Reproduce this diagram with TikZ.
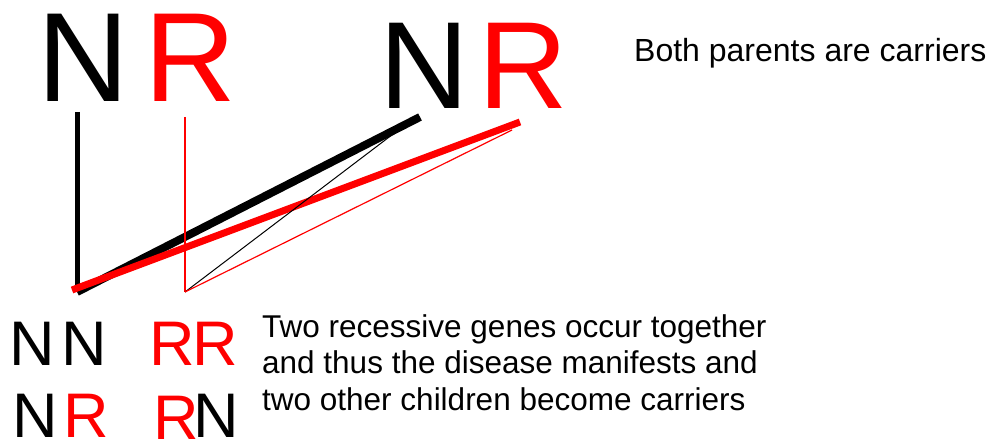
\documentclass[tikz,border=0pt]{standalone}
\usepackage{fontspec}
\setmainfont{Liberation Sans}
\usetikzlibrary{positioning}
\definecolor{rojo}{RGB}{255,0,0}

\begin{document}
\begin{tikzpicture}[x=1pt,y=-1pt]
  \tikzset{gene/.style={inner sep=0pt, anchor=base west}}
  \useasboundingbox (0,0) rectangle (987,441);
  % parents and children
  \foreach \n/\x/\y/\s/\c/\t in {pNa/37/102/127/black/N, pRa/144/102/127/rojo/R,
      pNb/379/109/124/black/N, pRb/478/109/124/rojo/R,
      kNa/9/365/63/black/N, kNb/61/365/63/black/N, kRa/149/365/63/rojo/R, kRb/192/365/63/rojo/R,
      kNc/12/437/63/black/N, kRc/63/437/63/rojo/R, kRd/153/439/63/rojo/R, kNd/193/437/63/black/N} {
    \node[gene, text=\c, font=\fontsize{\s}{\s}\selectfont] (\n) at (\x,\y) {\t};
  }
  \coordinate (topN) at (77,112);
  \coordinate (topR) at (185,117);
  \coordinate (kidA) at (77,292);
  \coordinate (kidAr) at (72,290);
  \coordinate (kidB) at (185,292);
  \coordinate (endN) at (420,117);
  \coordinate (endR) at (520,122);
  \coordinate (midN) at (405,125);
  \coordinate (midR) at (512,130);
  \draw[line width=5pt] (topN) -- (kidA);
  \draw[line width=8pt] (kidA) -- (endN);
  \draw[rojo, line width=7pt] (kidAr) -- (endR);
  \draw[rojo, line width=1.5pt] (topR) -- (kidB);
  \draw[line width=1pt] (kidB) -- (midN);
  \draw[rojo, line width=1.2pt] (kidB) -- (midR);
  % texts
  \node[gene, font=\fontsize{32}{36}\selectfont] (both) at (634,62) {Both parents are carriers};
  \foreach \i/\t in {0/Two recessive genes occur together, 1/and thus the disease manifests and,
      2/two other children become carriers} {
    \node[gene, font=\fontsize{31.5}{36}\selectfont] (note\i) at (262,{337+36.5*\i}) {\t};
  }
\end{tikzpicture}
\end{document}
